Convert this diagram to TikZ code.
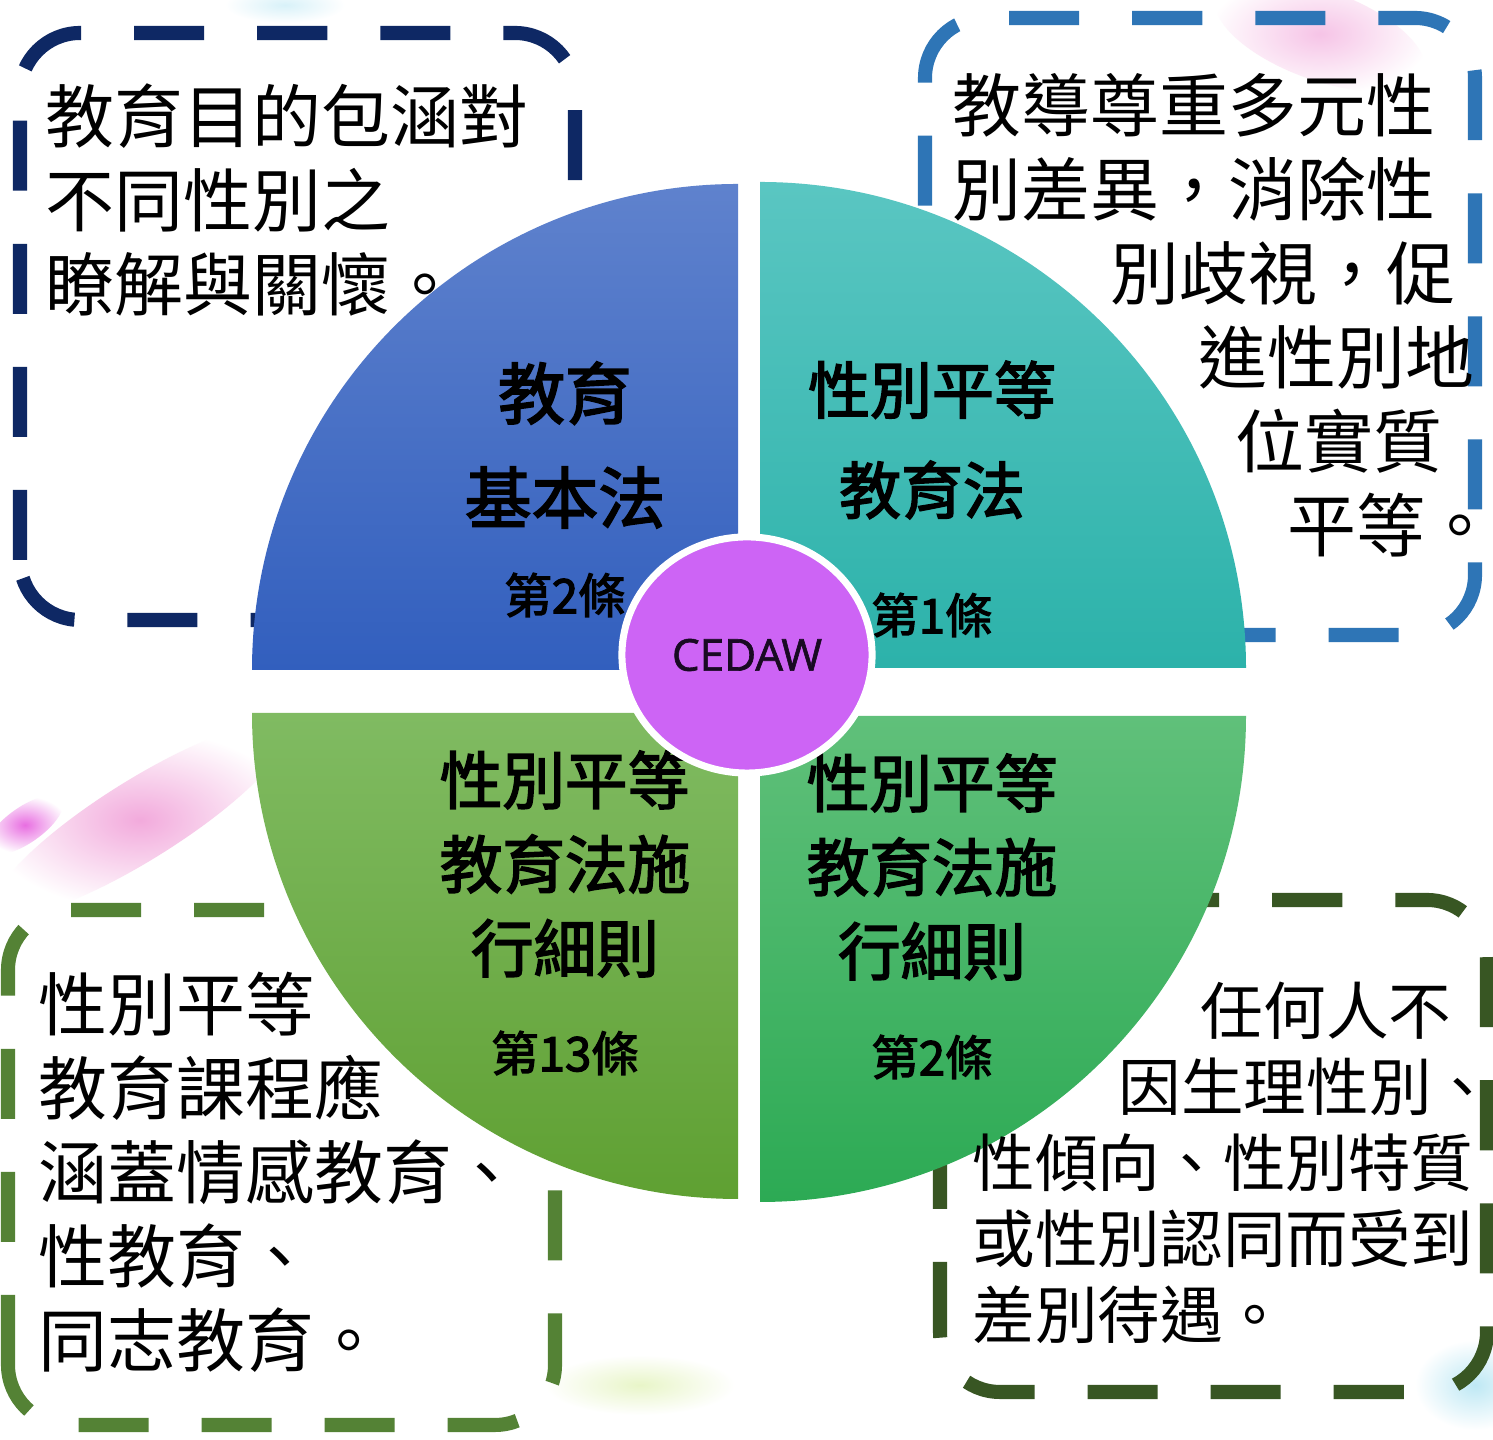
\documentclass[tikz,border=0pt]{standalone}
\usepackage{fontspec}
\usetikzlibrary{shapes.geometric}
\newfontfamily\cjk{Noto Sans CJK TC}
\newfontfamily\cjkbold[FakeBold=2.6]{Noto Sans CJK TC}
\newfontfamily\latin[FakeBold=1.4]{Open Sans}
\definecolor{navy}{RGB}{14,40,100}
\definecolor{skyline}{RGB}{46,117,182}
\definecolor{leaf}{RGB}{84,130,53}
\definecolor{moss}{RGB}{56,86,35}
\definecolor{blueA}{RGB}{95,130,205}
\definecolor{blueB}{RGB}{50,95,190}
\definecolor{tealA}{RGB}{90,198,194}
\definecolor{tealB}{RGB}{44,178,170}
\definecolor{greenA}{RGB}{128,187,98}
\definecolor{greenB}{RGB}{95,160,50}
\definecolor{mintA}{RGB}{96,192,122}
\definecolor{mintB}{RGB}{44,170,84}
\definecolor{violet}{RGB}{205,100,245}
\definecolor{ink}{RGB}{25,10,35}
\definecolor{blush}{RGB}{242,170,220}
\definecolor{magenta2}{RGB}{232,110,225}
\definecolor{haze}{RGB}{190,232,244}
\definecolor{lime}{RGB}{232,245,200}

\begin{document}
\begin{tikzpicture}[x=0.01cm,y=0.01cm,
  frame/.style={line width=4pt,rounded corners=0.6cm,dash pattern=on 0.7cm off 0.53cm},
  note/.style={inner sep=0pt,align=left,anchor=west,font=\cjk\fontsize{19.6}{23.9}\selectfont},
  law/.style={inner sep=0pt,align=center,font=\cjkbold\fontsize{17.8}{23.9}\selectfont},
  art/.style={inner sep=0pt,font=\cjkbold\fontsize{13.5}{16}\selectfont},
  smudge/.style={outer color=white}
]
\useasboundingbox[fill=white] (0,0) rectangle (1493,1440);
% faint background smudges
\shade[smudge,inner color=blush,rotate around={32:(140,620)}] (140,620) ellipse[x radius=170,y radius=40];
\shade[smudge,inner color=magenta2,rotate around={35:(25,615)}] (25,615) ellipse[x radius=45,y radius=18];
\shade[smudge,inner color=blush!70,rotate around={-20:(1320,1405)}] (1320,1405) ellipse[x radius=110,y radius=45];
\shade[smudge,inner color=haze] (1475,55) ellipse[x radius=60,y radius=45];
\shade[smudge,inner color=lime] (640,55) ellipse[x radius=95,y radius=30];
\shade[smudge,inner color=haze!60] (285,1435) ellipse[x radius=60,y radius=18];
% dashed frames behind the wheel
\draw[frame,navy] (20,820) rectangle (575,1407);
\draw[frame,skyline] (925,805) rectangle (1475,1422);
\draw[frame,leaf] (8,15) rectangle (555,530);
\draw[frame,moss] (940,48) rectangle (1487,540);
% four quarters
\shade[top color=blueA,bottom color=blueB] (738,770) -- (252,770) arc[start angle=180,end angle=90,radius=486] -- cycle;
\shade[top color=tealA,bottom color=tealB] (760,772) -- (760,1258) arc[start angle=90,end angle=0,radius=486] -- cycle;
\shade[top color=greenA,bottom color=greenB] (738,727) -- (252,727) arc[start angle=180,end angle=270,radius=486] -- cycle;
\shade[top color=mintA,bottom color=mintB] (760,724) -- (1246,724) arc[start angle=0,end angle=-90,radius=486] -- cycle;
% notes
\node[note] (purpose) at (45,1240) {教育目的包涵對\\不同性別之\\瞭解與關懷。};
\node[note] (respect) at (952,1125) {教導尊重多元性\\別差異，消除性\\\hspace*{1.58cm}別歧視，促\\\hspace*{2.46cm}進性別地\\\hspace*{2.83cm}位實質\\\hspace*{3.35cm}平等。};
\node[note] (course) at (38,268) {性別平等\\教育課程應\\涵蓋情感教育、\\性教育、\\同志教育。};
\node[note,font=\cjk\fontsize{17.8}{21.6}\selectfont] (nobias) at (972,277) {\hspace*{2.28cm}任何人不\\\hspace*{1.46cm}因生理性別、\\性傾向、性別特質\\或性別認同而受到\\差別待遇。};
% laws
\node[law,font=\cjkbold\fontsize{19}{29.6}\selectfont] (basic) at (565,995) {教育\\基本法};
\node[art] (basicart) at (565,845) {第2條};
\node[law,font=\cjkbold\fontsize{17.6}{28.5}\selectfont] (equal) at (932,1000) {性別平等\\教育法};
\node[art] (equalart) at (932,825) {第1條};
\node[law] (rulea) at (565,576) {性別平等\\教育法施\\行細則};
\node[art] (ruleaart) at (565,387) {第13條};
\node[law] (ruleb) at (932,573) {性別平等\\教育法施\\行細則};
\node[art] (rulebart) at (932,383) {第2條};
% centre
\node[ellipse,fill=violet,draw=white,line width=2pt,minimum width=2.5cm,minimum height=2.36cm,inner sep=0pt,text=ink,font=\latin\fontsize{12.5}{15}\selectfont] (cedaw) at (747,785) {CEDAW};
\end{tikzpicture}
\end{document}
